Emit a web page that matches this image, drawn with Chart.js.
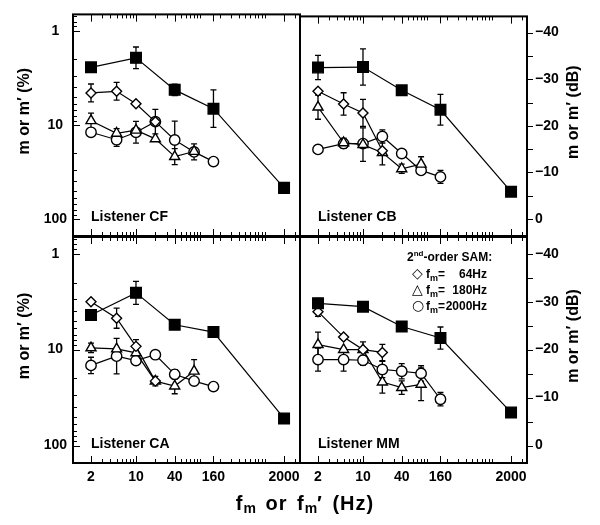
<!DOCTYPE html>
<html>
<head>
<meta charset="utf-8">
<script src="https://cdn.jsdelivr.net/npm/chart.js@4.4.0/dist/chart.umd.min.js"></script>
<style>
  html, body { margin: 0; padding: 0; background: #fff; }
  #wrap { position: relative; width: 600px; height: 525px; font-family: "Liberation Sans", Arial, sans-serif; font-weight: bold; color: #000; }
  #wrap canvas { position: absolute; left: 0; top: 0; }
  .xtitle { position: absolute; left: 0; width: 610px; top: 492px; text-align: center; font-size: 20px; line-height: 22px; letter-spacing: 1px; word-spacing: 3px; }
  .xtitle sub { font-size: 14px; line-height: 0; position: relative; top: 3px; vertical-align: baseline; letter-spacing: 0; }
  .legend { position: absolute; left: 407px; top: 249px; font-size: 12px; line-height: 16px; }
  .legend > div { height: 16px; overflow: visible; white-space: nowrap; }
  .legend sup { font-size: 8px; line-height: 0; position: relative; top: -5px; vertical-align: baseline; }
  .legend sub { font-size: 9px; line-height: 0; position: relative; top: 3px; vertical-align: baseline; }
  .legend .row { padding-left: 5px; }
  .legend .sym { display: inline-block; width: 14px; font-size: 14px; line-height: 16px; font-family: "DejaVu Sans", sans-serif; font-weight: normal; }
  .legend .val { display: inline-block; width: 42px; text-align: right; }
</style>
</head>
<body>
<div id="wrap">
  <canvas id="cf" width="600" height="525"></canvas>
  <canvas id="cb" width="600" height="525"></canvas>
  <canvas id="ca" width="600" height="525"></canvas>
  <canvas id="mm" width="600" height="525"></canvas>
  <div class="xtitle">f<sub>m</sub> or f<sub>m</sub>′ (Hz)</div>
  <div class="legend">
    <div>2<sup>nd</sup>-order SAM:</div>
    <div class="row"><span class="sym">◇</span>f<sub>m</sub>=<span class="val">64Hz</span></div>
    <div class="row"><span class="sym">△</span>f<sub>m</sub>=<span class="val">180Hz</span></div>
    <div class="row"><span class="sym">○</span>f<sub>m</sub>=<span class="val">2000Hz</span></div>
  </div>
</div>
<script>
// modulation frequencies (Hz)
const fFirst = [2, 10, 40, 160, 2000];
const f64 = [2, 5, 10, 20];
const f180 = [2, 5, 10, 20, 40, 80];
const f2000 = [2, 5, 10, 20, 40, 80, 160];

// tick labels
const xTicks = [2, 10, 40, 160, 2000];
const yTicks = [1, 10, 100];
const dbTicks = [-40, -30, -20, -10, 0];
const dbMinor = [-40, -35, -30, -25, -20, -15, -10, -5, 0];

// thresholds m or m' (%), error bars as half-width in dB
const cfFirst = [2.45, 1.94, 4.25, 6.73, 46.8];
const cfFirstErr = [0, 2.3, 1.2, 4.0, 0];
const cf64 = [4.58, 4.40, 5.97, 9.3];
const cf64Err = [1.9, 1.9, 0, 0];
const cf180 = [9.04, 12.3, 11.4, 14.1, 21.8, 19.2];
const cf180Err = [1.6, 1.0, 0, 0, 1.7, 0];
const cf2000 = [12.0, 14.4, 12.0, 9.26, 14.5, 19.4, 24.6];
const cf2000Err = [0, 1.4, 2.3, 2.6, 4.0, 1.7, 0];

const cbFirst = [2.37, 2.34, 4.16, 6.73, 50.8];
const cbFirstErr = [2.6, 3.9, 0.8, 3.3, 0];
const cb64 = [4.26, 5.82, 7.28, 18.5];
const cb64Err = [0, 2.4, 2.9, 0];
const cb180 = [6.3, 15.2, 15.9, 19.4, 28.9, 25.8];
const cb180Err = [2.6, 1.0, 3.6, 2.6, 1.0, 1.6];
const cb2000 = [17.9, 15.5, 15.5, 13.0, 19.8, 30.1, 35.3];
const cb2000Err = [0, 1.0, 0, 1.4, 0, 0, 1.4];

const caFirst = [4.35, 2.56, 5.51, 6.56, 52.1];
const caFirstErr = [0, 2.4, 0, 0, 0];
const ca64 = [3.17, 4.70, 9.25, 21.3];
const ca64Err = [0, 2.1, 1.4, 0];
const ca180 = [9.60, 9.84, 10.8, 21.3, 24.0, 16.8];
const ca180Err = [1.0, 0, 0, 1.0, 1.6, 2.4];
const ca2000 = [14.6, 11.7, 13.0, 11.3, 18.1, 21.3, 24.3];
const ca2000Err = [1.7, 3.7, 0, 0, 1.0, 0, 0];

const mmFirst = [3.29, 3.57, 5.74, 7.57, 45.1];
const mmFirstErr = [1.0, 0, 0, 2.3, 0];
const mm64 = [4.02, 7.4, 10.0, 10.7];
const mm64Err = [1.0, 0, 0, 1.7];
const mm180 = [8.87, 10.0, 10.0, 21.8, 24.9, 23.0];
const mm180Err = [2.6, 0, 1.6, 2.3, 1.4, 3.4];
const mm2000 = [12.7, 12.7, 12.9, 16.1, 16.8, 17.7, 32.9];
const mm2000Err = [2.4, 2.4, 1.0, 1.7, 1.6, 1.6, 1.4];

const X_MIN = 1.05, X_MAX = 3540;
const Y_MIN = 0.67, Y_MAX = 152;
const FONT = '"Liberation Sans", Arial, sans-serif';

Chart.defaults.font.family = FONT;
Chart.defaults.font.weight = 'bold';
Chart.defaults.color = '#000';

function pctToDb(m) { return 20 * Math.log10(m / 100); }

function logSteps(min, max) {
  const out = [];
  for (let d = Math.floor(Math.log10(min)); d <= Math.ceil(Math.log10(max)); d++) {
    for (let k = 1; k <= 9; k++) {
      const v = +(k * Math.pow(10, d)).toPrecision(6);
      if (v >= min && v <= max) out.push(v);
    }
  }
  return out;
}

function series(xs, ys, errs, style, r, fill) {
  return {
    data: xs.map((x, i) => ({ x: x, y: ys[i] })),
    errDb: errs,
    borderColor: '#000',
    borderWidth: 1.2,
    pointStyle: style,
    pointRadius: r,
    pointBackgroundColor: fill,
    pointBorderColor: '#000',
    pointBorderWidth: 1.4,
    tension: 0
  };
}

const errorBars = {
  id: 'errorBars',
  beforeDatasetsDraw(chart) {
    const ctx = chart.ctx, ys = chart.scales.y;
    ctx.save();
    ctx.strokeStyle = '#000';
    ctx.lineWidth = 1.3;
    chart.data.datasets.forEach((ds, i) => {
      const meta = chart.getDatasetMeta(i);
      ds.errDb.forEach((e, j) => {
        if (!e) return;
        const px = meta.data[j].x;
        const v = ds.data[j].y;
        const top = ys.getPixelForValue(v * Math.pow(10, -e / 20));
        const bot = ys.getPixelForValue(v * Math.pow(10, e / 20));
        ctx.beginPath();
        ctx.moveTo(px, top); ctx.lineTo(px, bot);
        ctx.moveTo(px - 3, top); ctx.lineTo(px + 3, top);
        ctx.moveTo(px - 3, bot); ctx.lineTo(px + 3, bot);
        ctx.stroke();
      });
    });
    ctx.restore();
  }
};

const frame = {
  id: 'frame',
  afterDraw(chart, args, o) {
    const ctx = chart.ctx, a = chart.chartArea;
    const xs = chart.scales.x, ys = chart.scales.y;
    ctx.save();
    ctx.strokeStyle = '#000';
    ctx.lineWidth = 2;
    ctx.strokeRect(a.left, a.top, a.right - a.left, a.bottom - a.top);
    ctx.lineWidth = 1;
    ctx.beginPath();
    const xVals = logSteps(X_MIN, X_MAX).concat(xTicks);
    xVals.forEach(v => {
      const px = Math.round(xs.getPixelForValue(v)) + 0.5;
      const len = xTicks.includes(v) ? 7 : 4;
      ctx.moveTo(px, a.top); ctx.lineTo(px, a.top + len);
      ctx.moveTo(px, a.bottom); ctx.lineTo(px, a.bottom - len);
    });
    if (o.left) {
      logSteps(Y_MIN, Y_MAX).forEach(v => {
        const py = Math.round(ys.getPixelForValue(v)) + 0.5;
        const len = yTicks.includes(v) ? 7 : 4;
        ctx.moveTo(a.left, py); ctx.lineTo(a.left + len, py);
      });
    } else {
      const db = chart.scales.yDb;
      dbMinor.forEach(v => {
        const py = Math.round(db.getPixelForValue(v)) + 0.5;
        ctx.moveTo(a.right, py); ctx.lineTo(a.right + 6, py);
      });
    }
    ctx.stroke();

    ctx.fillStyle = '#000';
    ctx.font = 'bold 14px ' + FONT;
    ctx.textBaseline = 'middle';
    ctx.textAlign = 'left';
    ctx.fillText('Listener ' + o.name, a.left + 18, a.bottom - 19);

    ctx.font = 'bold 16px ' + FONT;
    ctx.textAlign = 'center';
    const mid = (a.top + a.bottom) / 2 - 14;
    ctx.translate(o.left ? a.left - 48 : a.right + 47, mid);
    ctx.rotate(-Math.PI / 2);
    ctx.fillText(o.left ? 'm or m′ (%)' : 'm or m′ (dB)', 0, 0);
    ctx.restore();
  }
};

function makePanel(id, name, pos, d) {
  const left = pos.col === 0, bottom = pos.row === 1;
  const scales = {
    x: {
      type: 'logarithmic', position: 'bottom', min: X_MIN, max: X_MAX,
      grid: { display: false, drawTicks: false }, border: { display: false },
      ticks: { display: bottom, font: { size: 14 }, padding: 6, maxRotation: 0, autoSkip: false, callback: v => String(v) },
      afterBuildTicks: s => { s.ticks = xTicks.map(v => ({ value: v })); },
      afterFit: s => { s.height = bottom ? 30 : 0; }
    },
    y: {
      type: 'logarithmic', position: 'left', reverse: true, min: Y_MIN, max: Y_MAX,
      display: left,
      grid: { display: false, drawTicks: false }, border: { display: false },
      ticks: { font: { size: 14 }, padding: 6, crossAlign: 'center', callback: v => String(v) },
      afterBuildTicks: s => { s.ticks = yTicks.map(v => ({ value: v })); },
      afterFit: s => { s.width = left ? 58 : 0; }
    }
  };
  if (!left) {
    scales.yDb = {
      type: 'linear', position: 'right', reverse: true,
      min: pctToDb(Y_MIN), max: pctToDb(Y_MAX),
      grid: { display: false, drawTicks: false }, border: { display: false },
      ticks: { font: { size: 14 }, padding: 8, callback: v => v < 0 ? '\u2212' + Math.abs(v) : String(v) },
      afterBuildTicks: s => { s.ticks = dbTicks.map(v => ({ value: v })); },
      afterFit: s => { s.width = 58; }
    };
  }
  new Chart(document.getElementById(id), {
    type: 'line',
    data: {
      datasets: [
        series(fFirst, d.first, d.firstErr, 'rect', 7.5, '#000'),
        series(f64, d.fm64, d.fm64Err, 'rectRot', 5, '#fff'),
        series(f180, d.fm180, d.fm180Err, 'triangle', 5.8, '#fff'),
        series(f2000, d.fm2000, d.fm2000Err, 'circle', 5.2, '#fff')
      ]
    },
    options: {
      responsive: false,
      animation: false,
      devicePixelRatio: 1,
      layout: {
        padding: {
          left: left ? 15 : 300,
          right: left ? 300 : 15,
          top: bottom ? 237 : 10,
          bottom: bottom ? 32 : 289
        }
      },
      scales: scales,
      plugins: {
        legend: { display: false },
        tooltip: { enabled: false },
        frame: { name: name, left: left }
      }
    },
    plugins: [errorBars, frame]
  });
}

makePanel('cf', 'CF', { row: 0, col: 0 }, { first: cfFirst, firstErr: cfFirstErr, fm64: cf64, fm64Err: cf64Err, fm180: cf180, fm180Err: cf180Err, fm2000: cf2000, fm2000Err: cf2000Err });
makePanel('cb', 'CB', { row: 0, col: 1 }, { first: cbFirst, firstErr: cbFirstErr, fm64: cb64, fm64Err: cb64Err, fm180: cb180, fm180Err: cb180Err, fm2000: cb2000, fm2000Err: cb2000Err });
makePanel('ca', 'CA', { row: 1, col: 0 }, { first: caFirst, firstErr: caFirstErr, fm64: ca64, fm64Err: ca64Err, fm180: ca180, fm180Err: ca180Err, fm2000: ca2000, fm2000Err: ca2000Err });
makePanel('mm', 'MM', { row: 1, col: 1 }, { first: mmFirst, firstErr: mmFirstErr, fm64: mm64, fm64Err: mm64Err, fm180: mm180, fm180Err: mm180Err, fm2000: mm2000, fm2000Err: mm2000Err });
</script>
</body>
</html>
